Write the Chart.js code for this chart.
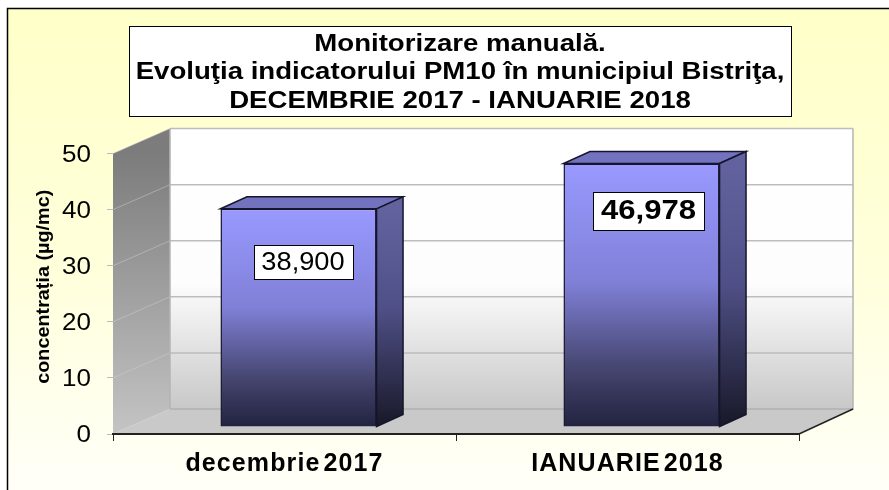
<!DOCTYPE html>
<html><head><meta charset="utf-8">
<style>html,body{margin:0;padding:0;background:#fff}canvas{display:block}</style>
<script src="https://cdn.jsdelivr.net/npm/chart.js@4"></script>
</head><body><canvas id="c" width="889" height="490"></canvas>
<script>
const categories = ['decembrie 2017', 'IANUARIE 2018'];
const values = [38.9, 46.978];
const valueBold = [false, true];
const titleLines = ['Monitorizare manuală.', 'Evoluţia indicatorului PM10 în municipiul Bistriţa,', 'DECEMBRIE 2017 - IANUARIE 2018'];
const yAxisTitle = 'concentrația (µg/mc)';
const yMin = 0, yMax = 50, yStep = 10;

const FONT = '"Liberation Sans", Arial, sans-serif';
const wall = {dxL: 57, dxR: 54, dy: -25};  // depth of the chart box
const barShift = {dx: 14, dy: -7};         // bars stand inside the box
const barDepth = {dx: 26.5, dy: -12};
const labelBox = [
  {cx: 4.5, cy: 53.5, w: 99, h: 34, size: 25, stretch: 1.09},
  {cx: 7, cy: 47, w: 111, h: 38, size: 28, stretch: 1.11}
];

const poly = (c, pts, fill, stroke, lw) => {
  c.beginPath();
  pts.forEach((p, i) => i ? c.lineTo(p[0], p[1]) : c.moveTo(p[0], p[1]));
  c.closePath();
  if (fill) { c.fillStyle = fill; c.fill(); }
  if (stroke) { c.strokeStyle = stroke; c.lineWidth = lw || 1; c.stroke(); }
};
const vGrad = (c, y0, y1, stops) => {
  const g = c.createLinearGradient(0, y0, 0, y1);
  stops.forEach(s => g.addColorStop(s[0], s[1]));
  return g;
};
// run one of the library's own text-drawing steps with a local canvas state
const wrap = (obj, name, setup) => {
  const orig = obj[name];
  obj[name] = function (...a) {
    const c = this.ctx;
    c.save(); setup(c);
    const r = orig.apply(this, a);
    c.restore();
    return r;
  };
};

const scene = {
  id: 'scene',
  afterLayout(chart) {
    const t = chart.titleBlock;
    t.left += 4; t.right += 4;
    if (chart.$wrapped) return;
    chart.$wrapped = true;
    wrap(t, 'draw', c => { c.translate(460, 0); c.scale(1.2, 1); c.translate(-460, 0); });
    wrap(chart.scales.y, 'drawLabels', c => { c.translate(91, 2); c.scale(1.13, 1); c.translate(-91, 0); });
    wrap(chart.scales.y, 'drawTitle', c => { c.translate(7, 287); c.scale(1, 1.1); c.translate(0, -294); });
    wrap(chart.scales.x, 'drawLabels', c => { c.letterSpacing = '1.1px'; c.wordSpacing = '-5px'; });
  },
  beforeDraw(chart) {
    const c = chart.ctx, {left: L, right: R} = chart.chartArea;
    const ys = chart.scales.y;
    const T = ys.getPixelForValue(yMax), B = ys.getPixelForValue(yMin);
    const dl = wall.dxL, dr = wall.dxR, dy = wall.dy;
    c.save();
    // page
    c.fillStyle = '#fff'; c.fillRect(0, 0, 889, 490);
    c.fillStyle = vGrad(c, 8, 490, [[0, '#ffffc8'], [0.55, '#ffffdc'], [1, '#fffff8']]);
    c.fillRect(8, 8, 881, 482);
    c.strokeStyle = '#000'; c.lineWidth = 1.5;
    c.beginPath(); c.moveTo(7.5, 490); c.lineTo(7.5, 8.5); c.lineTo(889, 8.5); c.stroke();
    // title box
    c.fillStyle = '#fff'; c.fillRect(129.5, 26.5, 662, 90);
    c.strokeStyle = '#000'; c.lineWidth = 1; c.strokeRect(129.5, 26.5, 662, 90);
    // back wall
    poly(c, [[L + dl, T + dy], [R + dr, T + dy], [R + dr, B + dy], [L + dl, B + dy]],
      vGrad(c, T + dy, B + dy, [[0, '#ffffff'], [0.55, '#fdfdfd'], [1, '#c8c8c8']]));
    // left wall
    poly(c, [[L, B], [L, T], [L + dl, T + dy], [L + dl, B + dy]],
      vGrad(c, T, B, [[0, '#7c7c7c'], [1, '#c4c4c4']]));
    // floor
    poly(c, [[L, B], [R, B], [R + dr, B + dy], [L + dl, B + dy]], '#c9c9c9');
    // grid
    for (let v = yMin; v <= yMax; v += yStep) {
      const y = ys.getPixelForValue(v);
      c.strokeStyle = '#bdbdbd'; c.lineWidth = 1.5;
      c.beginPath(); c.moveTo(L + dl, y + dy); c.lineTo(R + dr, y + dy); c.stroke();
      c.strokeStyle = 'rgba(205,205,205,0.5)'; c.lineWidth = 1;
      c.beginPath(); c.moveTo(L, y); c.lineTo(L + dl, y + dy); c.stroke();
    }
    c.strokeStyle = '#b4b4b4'; c.lineWidth = 1.5;
    c.beginPath(); c.moveTo(L + dl, T + dy); c.lineTo(L + dl, B + dy); c.lineTo(R + dr, B + dy); c.lineTo(R + dr, T + dy); c.stroke();
    c.strokeStyle = '#222'; c.lineWidth = 1.5;
    c.beginPath(); c.moveTo(R, B); c.lineTo(R + dr, B + dy); c.stroke();
    c.restore();
  },
  beforeDatasetDraw(chart, args) {
    const c = chart.ctx;
    c.save();
    c.translate(barShift.dx, barShift.dy);
    const {dx, dy} = barDepth;
    args.meta.data.forEach(el => {
      const l = el.x - el.width / 2, r = el.x + el.width / 2, t = el.y, b = el.base;
      poly(c, [[l, t], [r, t], [r + dx, t + dy], [l + dx, t + dy]], '#7272bf', '#15152c', 1.5);
      poly(c, [[r, t], [r + dx, t + dy], [r + dx, b + dy], [r, b]],
        vGrad(c, t, b, [[0, '#62629f'], [0.45, '#505088'], [1, '#181828']]), '#15152c', 1.5);
    });
  },
  afterDatasetDraw(chart) { chart.ctx.restore(); },
  afterDatasetsDraw(chart) {
    const c = chart.ctx;
    const meta = chart.getDatasetMeta(0);
    meta.data.forEach((el, i) => {
      const b = labelBox[i];
      const cx = el.x + barShift.dx + b.cx, cy = el.y + barShift.dy + b.cy;
      const x = Math.round(cx - b.w / 2) + 0.5, y = Math.round(cy - b.h / 2) + 0.5;
      c.save();
      c.fillStyle = '#fff'; c.fillRect(x, y, b.w, b.h);
      c.strokeStyle = '#000'; c.lineWidth = 1; c.strokeRect(x, y, b.w, b.h);
      c.fillStyle = '#000';
      c.font = (valueBold[i] ? 'bold ' : '') + b.size + 'px ' + FONT;
      c.textAlign = 'center'; c.textBaseline = 'middle';
      c.translate(cx, cy + 1); c.scale(b.stretch, 1);
      c.fillText(values[i].toFixed(3).replace('.', ','), 0, 0);
      c.restore();
    });
  }
};

const ctx = document.getElementById('c').getContext('2d');
new Chart(ctx, {
  type: 'bar',
  data: {
    labels: categories,
    datasets: [{
      data: values,
      clip: false,
      barPercentage: 0.455,
      categoryPercentage: 1,
      borderColor: '#15152c',
      borderWidth: 1.5,
      backgroundColor(context) {
        const ch = context.chart;
        if (!ch.chartArea || context.raw === undefined) return '#8888dd';
        const ys = ch.scales.y;
        return vGrad(ch.ctx, ys.getPixelForValue(context.raw), ys.getPixelForValue(0),
          [[0, '#9999ff'], [0.45, '#8080d8'], [0.78, '#45456f'], [1, '#222240']]);
      }
    }]
  },
  options: {
    responsive: false,
    animation: false,
    layout: {padding: {left: 0, right: 90, top: 0, bottom: 0}},
    plugins: {
      legend: {display: false},
      tooltip: {enabled: false},
      title: {
        display: true,
        fullSize: false,
        text: titleLines,
        color: '#000',
        font: {family: FONT, size: 23, weight: 'bold', lineHeight: 1.24},
        padding: {top: 30, bottom: 38}
      }
    },
    scales: {
      x: {
        afterFit(s) { s.height = 56; },
        grid: {drawOnChartArea: false, drawTicks: true, tickLength: 7, color: '#222', offset: true},
        border: {color: '#222', width: 2},
        ticks: {color: '#000', padding: 8, font: {family: FONT, size: 25, weight: 'bold'}}
      },
      y: {
        min: yMin, max: yMax,
        afterFit(s) { s.width = 113; },
        grid: {drawOnChartArea: false, drawTicks: true, tickLength: 6, color: '#bbb'},
        border: {display: false},
        ticks: {stepSize: yStep, color: '#000', padding: 16, font: {family: FONT, size: 23}},
        title: {display: true, text: yAxisTitle, color: '#000', padding: {top: 26, bottom: 0},
          font: {family: FONT, size: 18, weight: 'bold'}}
      }
    }
  },
  plugins: [scene]
});
</script></body></html>
